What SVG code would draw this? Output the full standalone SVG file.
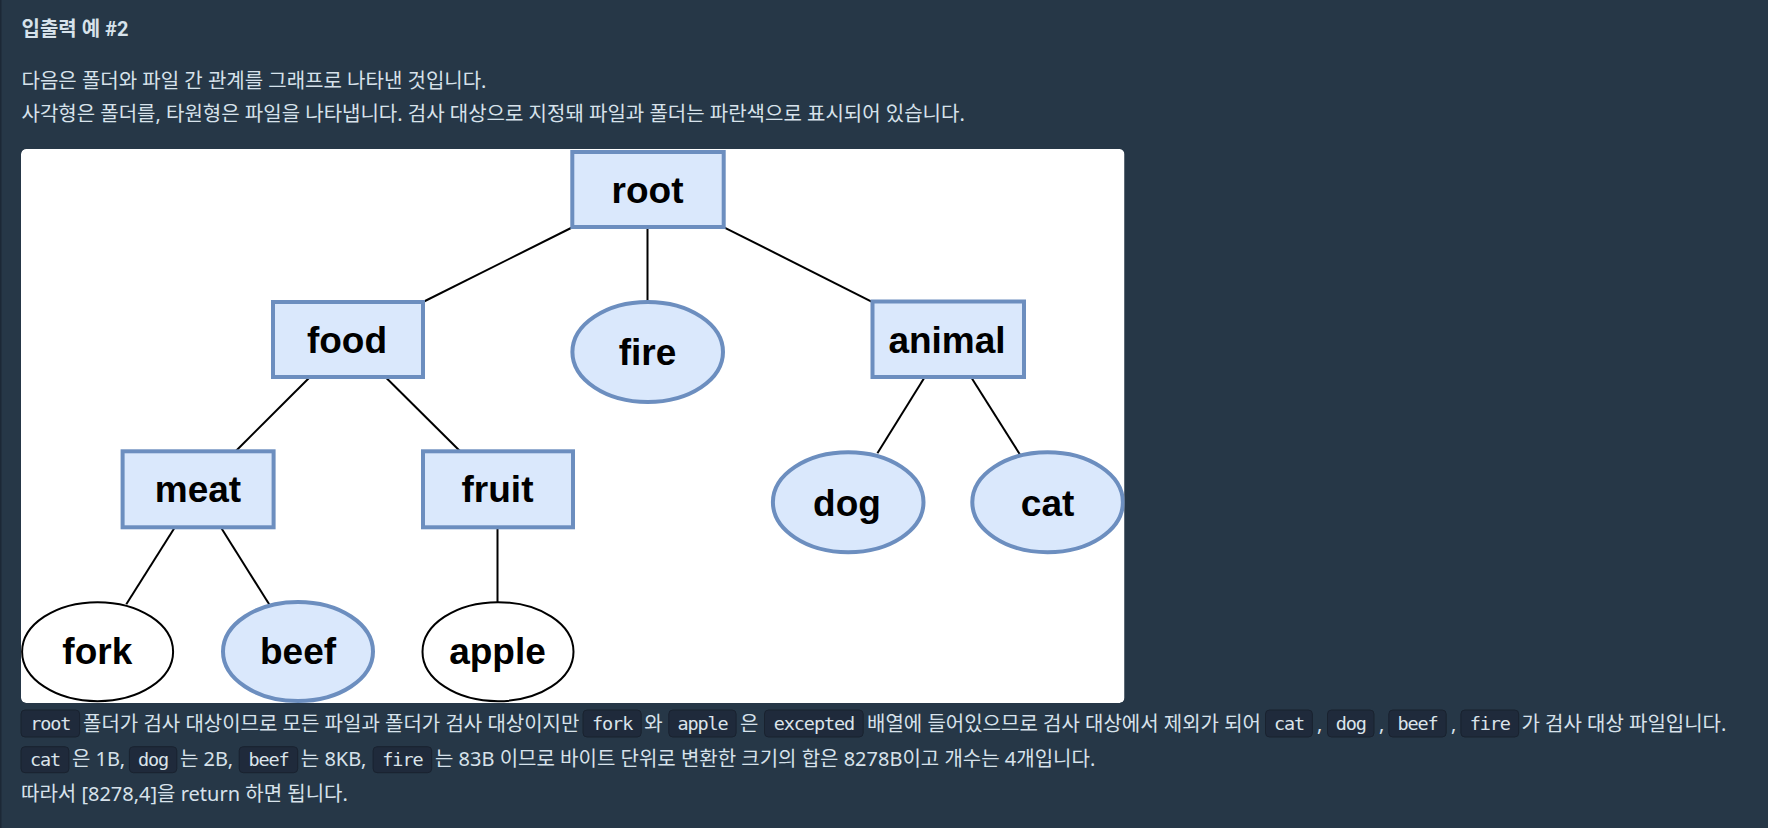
<svg xmlns="http://www.w3.org/2000/svg" width="1768" height="828" viewBox="0 0 1768 828">
<style>
.bg{fill:#263747}
.t{font-family:"Noto Sans","Noto Sans CJK KR",sans-serif;font-size:20px;fill:#d7e2eb}
.h{font-family:Roboto,"Noto Sans CJK KR",sans-serif;font-weight:bold;font-size:20px}
.cb{fill:#1f2a3b;stroke:#19222f;stroke-width:1}
.ct{font-family:"DejaVu Sans Mono",monospace;font-size:18.5px;letter-spacing:-1.1px;fill:#dbe3ea;text-anchor:middle}
.fold{fill:#dae8fc;stroke:#6c8ebf;stroke-width:4}
.fsel{fill:#dae8fc;stroke:#6c8ebf;stroke-width:4}
.fex{fill:#ffffff;stroke:#000000;stroke-width:2}
.lbl{font-family:"Liberation Sans",Arial,sans-serif;font-weight:bold;font-size:37px;fill:#000;text-anchor:middle}
.edge{stroke:#000;stroke-width:2;fill:none}
</style>
<defs>
<clipPath id="card"><rect x="21" y="149" width="1103.5" height="554" rx="5"/></clipPath>
</defs>
<rect class="bg" x="0" y="0" width="1768" height="828"/>
<rect x="0" y="0" width="1.5" height="828" fill="#1c2836"/>
<text class="t h" x="21.5" y="36">입출력 예 #2</text>
<text class="t" x="21.5" y="87.5">다음은 폴더와 파일 간 관계를 그래프로 나타낸 것입니다.</text>
<text class="t" x="21.5" y="120.5">사각형은 폴더를, 타원형은 파일을 나타냅니다. 검사 대상으로 지정돼 파일과 폴더는 파란색으로 표시되어 있습니다.</text>
<g id="diagram" clip-path="url(#card)">
<rect x="21" y="149" width="1103.5" height="554" rx="5" fill="#ffffff"/>
<g id="connectors">
<line class="edge" x1="573" y1="227" x2="423" y2="302"/>
<line class="edge" x1="647.5" y1="229" x2="647.5" y2="302"/>
<line class="edge" x1="724" y1="227.3" x2="873" y2="302.3"/>
<line class="edge" x1="310" y1="377" x2="235.4" y2="451.5"/>
<line class="edge" x1="385.4" y1="377" x2="460.4" y2="451.5"/>
<line class="edge" x1="924.8" y1="377" x2="877.4" y2="453.3"/>
<line class="edge" x1="971" y1="377" x2="1019.8" y2="454.3"/>
<line class="edge" x1="174.9" y1="527.3" x2="126.3" y2="604.3"/>
<line class="edge" x1="220.8" y1="527.3" x2="269.8" y2="605.3"/>
<line class="edge" x1="497.5" y1="527.3" x2="497.5" y2="602"/>
</g>
<g id="root"><rect class="fold" x="572.3" y="152" width="151.4" height="75"/><text class="lbl" x="647.5" y="202.7">root</text></g>
<g id="food"><rect class="fold" x="273" y="302" width="150" height="75"/><text class="lbl" x="347" y="352.7">food</text></g>
<g id="fire"><ellipse class="fsel" cx="647.7" cy="352" rx="75.3" ry="50"/><text class="lbl" x="647.5" y="365">fire</text></g>
<g id="animal"><rect class="fold" x="872.5" y="301.5" width="151.5" height="75.5"/><text class="lbl" x="947" y="352.7">animal</text></g>
<g id="meat"><rect class="fold" x="122.6" y="451.3" width="151" height="76"/><text class="lbl" x="198" y="501.7">meat</text></g>
<g id="fruit"><rect class="fold" x="423" y="451.3" width="150" height="76"/><text class="lbl" x="497.5" y="501.7">fruit</text></g>
<g id="dog"><ellipse class="fsel" cx="848.2" cy="502.2" rx="75.3" ry="50"/><text class="lbl" x="847" y="515.7">dog</text></g>
<g id="cat"><ellipse class="fsel" cx="1047.6" cy="502.2" rx="75.3" ry="50"/><text class="lbl" x="1047.6" y="515.7">cat</text></g>
<g id="fork"><ellipse class="fex" cx="97.6" cy="651.7" rx="75.5" ry="49.5"/><text class="lbl" x="97.3" y="664.3">fork</text></g>
<g id="beef"><ellipse class="fsel" cx="298" cy="651.5" rx="75" ry="49.5"/><text class="lbl" x="298" y="664.3">beef</text></g>
<g id="apple"><ellipse class="fex" cx="498" cy="651.7" rx="75.5" ry="49.5"/><text class="lbl" x="497.5" y="664.3">apple</text></g>
</g>
<g id="line1">
<rect class="cb" x="21" y="710" width="58.6" height="27" rx="4"/><text class="ct" x="50.3" y="729.5">root</text>
<text class="t" x="83" y="730.5">폴더가 검사 대상이므로 모든 파일과 폴더가 검사 대상이지만</text>
<rect class="cb" x="583" y="710" width="58.2" height="27" rx="4"/><text class="ct" x="612.1" y="729.5">fork</text>
<text class="t" x="644.3" y="730.5">와</text>
<rect class="cb" x="668.8" y="710" width="67.3" height="27" rx="4"/><text class="ct" x="702.5" y="729.5">apple</text>
<text class="t" x="740" y="730.5">은</text>
<rect class="cb" x="764.5" y="710" width="98.7" height="27" rx="4"/><text class="ct" x="813.9" y="729.5">excepted</text>
<text class="t" x="867" y="730.5">배열에 들어있으므로 검사 대상에서 제외가 되어</text>
<rect class="cb" x="1265.5" y="710" width="46.9" height="27" rx="4"/><text class="ct" x="1289" y="729.5">cat</text>
<text class="t" x="1317" y="730.5">,</text>
<rect class="cb" x="1327.5" y="710" width="46.5" height="27" rx="4"/><text class="ct" x="1350.8" y="729.5">dog</text>
<text class="t" x="1379" y="730.5">,</text>
<rect class="cb" x="1388.8" y="710" width="57.4" height="27" rx="4"/><text class="ct" x="1417.5" y="729.5">beef</text>
<text class="t" x="1451" y="730.5">,</text>
<rect class="cb" x="1460.9" y="710" width="57.8" height="27" rx="4"/><text class="ct" x="1489.8" y="729.5">fire</text>
<text class="t" x="1521.4" y="730.5">가 검사 대상 파일입니다.</text>
</g>
<g id="line2">
<rect class="cb" x="21" y="746.7" width="47.9" height="26" rx="4"/><text class="ct" x="45" y="765.5">cat</text>
<text class="t" x="72" y="765.5">은 1B,</text>
<rect class="cb" x="129.4" y="746.7" width="47.4" height="26" rx="4"/><text class="ct" x="153.1" y="765.5">dog</text>
<text class="t" x="180" y="765.5">는 2B,</text>
<rect class="cb" x="239.2" y="746.7" width="58.5" height="26" rx="4"/><text class="ct" x="268.5" y="765.5">beef</text>
<text class="t" x="300.8" y="765.5">는 8KB,</text>
<rect class="cb" x="373.1" y="746.7" width="58.6" height="26" rx="4"/><text class="ct" x="402.4" y="765.5">fire</text>
<text class="t" x="435" y="765.5">는 83B 이므로 바이트 단위로 변환한 크기의 합은 8278B이고 개수는 4개입니다.</text>
</g>
<text class="t" x="21" y="800.5">따라서 [8278,4]을 return 하면 됩니다.</text>
</svg>
